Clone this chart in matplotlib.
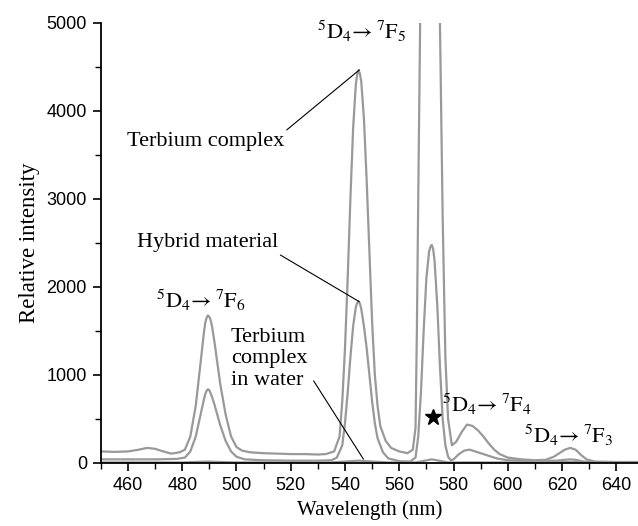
import matplotlib
matplotlib.use("Agg")
import matplotlib.pyplot as plt

plt.rcParams["mathtext.fontset"] = "stix"

# Terbium complex (upper curve)
wl_complex = [450, 455, 460, 464, 467, 470, 473, 476, 479, 481, 483, 485, 487, 488,
              488.5, 489, 489.5, 490, 490.5, 491, 492, 494, 496, 498, 500, 502, 505,
              510, 515, 520, 525, 530, 533, 536, 538, 539, 540, 541, 542, 543, 544,
              544.5, 545, 545.5, 546, 547, 548, 549, 550, 551, 552, 553, 555, 557, 560,
              563, 565, 566, 566.5, 567, 567.7, 568.5, 570, 571.5, 573, 574, 575, 576,
              577, 578, 579.4, 581, 583, 585, 587, 589, 591, 593, 595, 597, 600, 605,
              610, 614, 617, 619, 621, 623, 625, 627, 629, 632, 640, 648]
int_complex = [130, 125, 130, 150, 170, 160, 130, 105, 120, 150, 300, 650, 1200, 1480,
               1590, 1650, 1675, 1660, 1620, 1550, 1350, 900, 550, 300, 180, 140, 120,
               110, 105, 100, 100, 95, 100, 130, 300, 700, 1300, 2100, 3000, 3800, 4300,
               4410, 4460, 4420, 4330, 3900, 3200, 2400, 1600, 1000, 650, 420, 250, 170,
               130, 110, 150, 400, 1500, 3000, 5000, 7500, 10000, 11000, 9500, 7500, 5000,
               2800, 1200, 500, 200, 240, 350, 435, 420, 370, 300, 220, 150, 100, 60, 40,
               30, 35, 70, 110, 150, 170, 150, 90, 40, 15, 10, 10]

# Hybrid material (middle curve)
wl_hybrid = [450, 460, 470, 478, 481, 483, 485, 487, 488, 488.5, 489, 489.5, 490, 490.5,
             491, 492, 494, 496, 498, 500, 503, 510, 520, 530, 535, 537, 539, 540, 541,
             542, 543, 544, 544.5, 545, 545.5, 546, 547, 548, 549, 550, 551, 552, 554,
             556, 560, 564, 566, 567, 568, 569, 570, 571, 571.5, 572, 572.5, 573, 574,
             575, 576, 577, 578, 579, 580, 582, 584, 586, 588, 590, 593, 596, 600, 610,
             618, 621, 623, 625, 628, 632, 648]
int_hybrid = [40, 40, 40, 45, 60, 130, 300, 580, 720, 780, 820, 835, 825, 790, 750,
              650, 430, 250, 130, 70, 40, 30, 25, 25, 30, 60, 200, 450, 800, 1200, 1550,
              1770, 1815, 1835, 1810, 1750, 1550, 1300, 1000, 700, 450, 280, 120, 50, 20,
              15, 60, 300, 800, 1500, 2100, 2400, 2455, 2475, 2430, 2300, 1800, 1100, 500,
              200, 70, 30, 40, 100, 140, 150, 130, 110, 80, 50, 30, 20, 25, 35, 40, 35,
              15, 5, 5]

# Terbium complex in water (near baseline)
wl_water = [450, 480, 489, 500, 535, 545, 556, 566, 572, 578, 600, 623, 648]
int_water = [5, 5, 15, 5, 5, 25, 5, 5, 40, 5, 5, 10, 5]

fig = plt.figure(figsize=(6.38, 5.26), dpi=100)
ax = fig.add_axes([0.158, 0.12, 0.842, 0.837])

line_kw = dict(color="#999999", lw=1.6)
ax.plot(wl_complex, int_complex, **line_kw)
ax.plot(wl_hybrid, int_hybrid, **line_kw)
ax.plot(wl_water, int_water, **line_kw)

ax.set_xlim(450, 648)
ax.set_ylim(0, 5000)
ax.set_xticks(range(460, 641, 20))
ax.set_xticks(range(450, 648, 10), minor=True)
ax.set_yticks(range(0, 5001, 1000))
ax.set_yticks(range(0, 5001, 500), minor=True)
for s in ["top", "right"]:
    ax.spines[s].set_visible(False)
ax.spines["left"].set_linewidth(1.3)
ax.spines["bottom"].set_linewidth(1.3)
ax.tick_params(which="major", length=6, width=1.2, direction="out",
               labelsize=13, pad=4)
ax.tick_params(which="minor", length=4, width=1.0, direction="out")
for lbl in ax.get_xticklabels() + ax.get_yticklabels():
    lbl.set_family("Liberation Sans")

serif = "Liberation Serif"
ax.set_xlabel("Wavelength (nm)", fontfamily=serif, fontsize=15, labelpad=5)
ax.set_ylabel("Relative intensity", fontfamily=serif, fontsize=16.5, labelpad=5)

# -----------------------------
# Curve labels with leader lines
# -----------------------------
line_arrow = dict(arrowstyle="-", color="black", lw=0.8, shrinkA=0, shrinkB=0)
ax.annotate("Terbium complex", xy=(545.3, 4463), xytext=(517.5, 3650),
            ha="right", va="center", fontfamily=serif, fontsize=16,
            arrowprops=dict(line_arrow, relpos=(0.98, 0.85)))
ax.annotate("Hybrid material", xy=(545.3, 1830), xytext=(515.5, 2500),
            ha="right", va="center", fontfamily=serif, fontsize=16,
            arrowprops=dict(line_arrow, relpos=(0.98, 0.0)))
ax.annotate("Terbium\ncomplex\nin water", xy=(546.8, 42), xytext=(498, 1180),
            ha="left", va="center", linespacing=1.2, fontfamily=serif, fontsize=16,
            arrowprops=dict(line_arrow, relpos=(1.08, 0.15)))

# -----------------------------
# Transition labels
# -----------------------------
tr_kw = dict(ha="center", va="center", fontsize=16)
ax.text(487, 1850, r"$^{5}\mathrm{D}_{4}\!\rightarrow{}^{7}\mathrm{F}_{6}$", **tr_kw)
ax.text(546, 4900, r"$^{5}\mathrm{D}_{4}\!\rightarrow{}^{7}\mathrm{F}_{5}$", **tr_kw)
ax.text(592.2, 670, r"$^{5}\mathrm{D}_{4}\!\rightarrow{}^{7}\mathrm{F}_{4}$", **tr_kw)
ax.text(622.3, 310, r"$^{5}\mathrm{D}_{4}\!\rightarrow{}^{7}\mathrm{F}_{3}$", **tr_kw)

ax.plot([572.4], [523], marker="*", color="black", markersize=12, clip_on=False)

fig.savefig("out.png", dpi=100)
